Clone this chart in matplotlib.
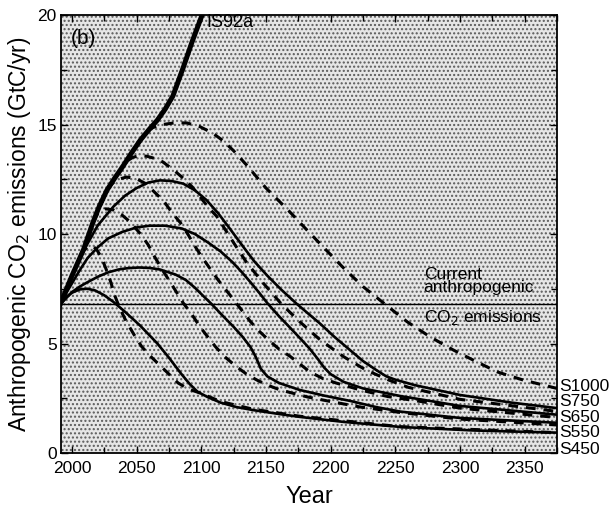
import numpy as np
import matplotlib.pyplot as plt
from matplotlib.patches import Rectangle
from matplotlib.ticker import MultipleLocator

plt.rcParams['font.family'] = ['Liberation Sans', 'DejaVu Sans']
plt.rcParams['hatch.linewidth'] = 1.0

current = 6.8

# IS92a reference scenario
is92a_yr = [1991, 2000, 2009, 2016, 2021, 2027, 2033, 2039, 2046, 2053, 2060, 2066, 2072, 2078, 2086, 2093, 2100.6, 2104]
is92a_val = [6.8, 8.1, 9.3, 10.5, 11.25, 12.0, 12.55, 13.06, 13.7, 14.3, 14.8, 15.2, 15.7, 16.3, 17.6, 18.8, 20.0, 20.6]

# solid (S) profiles
s450_yr = [1991, 1996, 2000, 2006, 2012, 2018, 2025, 2032, 2040, 2053, 2066, 2075, 2084, 2091, 2097,
           2105, 2115, 2127, 2140, 2158, 2176, 2210, 2254, 2310, 2375]
s450_val = [6.8, 7.15, 7.32, 7.47, 7.5, 7.42, 7.2, 6.9, 6.5, 5.8, 5.0, 4.35, 3.65, 3.15, 2.8,
            2.55, 2.3, 2.1, 1.96, 1.8, 1.65, 1.42, 1.19, 1.03, 0.93]

s550_yr = [1991, 1996, 2000, 2006, 2012, 2020, 2028, 2036, 2043, 2052, 2060, 2068, 2080, 2088, 2095,
           2101, 2108, 2116, 2125, 2132, 2138, 2142, 2146, 2151, 2160, 2176, 2195, 2215, 2235, 2254, 2300, 2375]
s550_val = [6.8, 7.1, 7.35, 7.6, 7.8, 8.05, 8.25, 8.38, 8.44, 8.47, 8.45, 8.38, 8.15, 7.9, 7.55,
            7.2, 6.8, 6.3, 5.76, 5.3, 4.84, 4.4, 3.85, 3.5, 3.2, 2.88, 2.62, 2.38, 2.1, 1.89, 1.6, 1.38]

s650_yr = [1991, 1996, 2000, 2006, 2012, 2020, 2028, 2039, 2050, 2060, 2072, 2085, 2095, 2105, 2115,
           2124, 2131, 2138, 2145, 2151, 2160, 2169, 2177, 2184, 2190, 2195, 2200, 2210, 2225, 2254, 2300, 2375]
s650_val = [6.8, 7.35, 7.75, 8.35, 8.9, 9.4, 9.8, 10.1, 10.3, 10.38, 10.38, 10.25, 10.0, 9.62, 9.2,
            8.72, 8.28, 7.8, 7.3, 6.85, 6.25, 5.7, 5.2, 4.75, 4.3, 3.9, 3.6, 3.25, 2.95, 2.6, 2.15, 1.75]

s750_yr = [1991, 1996, 2000, 2005, 2010, 2020, 2032, 2041, 2050, 2059, 2068, 2077, 2086, 2095, 2104,
           2113, 2122, 2132, 2141, 2151, 2162, 2174, 2183, 2192, 2203, 2215, 2225, 2235, 2243, 2250,
           2265, 2300, 2340, 2375]
s750_val = [6.8, 7.5, 8.05, 8.75, 9.35, 10.4, 11.25, 11.75, 12.1, 12.35, 12.45, 12.42, 12.3, 12.0, 11.55,
            10.95, 10.25, 9.45, 8.75, 8.1, 7.45, 6.8, 6.35, 5.9, 5.3, 4.7, 4.2, 3.8, 3.5, 3.35,
            3.1, 2.65, 2.3, 2.05]

# dashed profiles branching off IS92a
d450_yr = [1991, 2000, 2005, 2009, 2013, 2016, 2019, 2023, 2027, 2030, 2033, 2037, 2042, 2048, 2054,
           2061, 2068, 2075, 2082, 2090, 2099, 2115, 2140, 2176, 2254, 2375]
d450_val = [6.8, 8.1, 8.8, 9.25, 9.45, 9.45, 9.3, 8.9, 8.3, 7.8, 7.2, 6.6, 6.0, 5.4, 4.85,
            4.4, 4.0, 3.6, 3.2, 2.92, 2.74, 2.35, 2.0, 1.68, 1.2, 0.93]

d550_yr = [1991, 2000, 2009, 2016, 2020, 2026, 2032, 2038, 2045, 2053, 2059, 2064, 2070, 2076, 2086,
           2093, 2099, 2105, 2111, 2118, 2126, 2135, 2143, 2152, 2161, 2182, 2200, 2223, 2254, 2300, 2375]
d550_val = [6.8, 8.1, 9.3, 10.5, 10.95, 11.15, 11.1, 10.9, 10.55, 10.0, 9.5, 8.95, 8.35, 7.8, 6.85,
            6.3, 5.76, 5.3, 4.85, 4.4, 4.0, 3.6, 3.33, 3.08, 2.88, 2.56, 2.35, 2.1, 1.85, 1.55, 1.28]

d650_yr = [1991, 2000, 2009, 2016, 2027, 2031, 2035, 2042, 2049, 2057, 2064, 2071, 2077, 2084, 2090,
           2095, 2101, 2107, 2113, 2125, 2138, 2145, 2152, 2160, 2169, 2184, 2194, 2204, 2223, 2244,
           2270, 2300, 2375]
d650_val = [6.8, 8.1, 9.3, 10.5, 12.0, 12.3, 12.48, 12.6, 12.55, 12.3, 11.9, 11.5, 11.0, 10.5, 9.95,
            9.45, 8.9, 8.4, 7.9, 7.0, 6.0, 5.55, 5.16, 4.75, 4.4, 3.7, 3.4, 3.2, 2.88, 2.58,
            2.35, 2.05, 1.62]

d750_yr = [1991, 2000, 2009, 2016, 2027, 2039, 2043, 2047, 2052, 2058, 2064, 2070, 2078, 2086, 2093,
           2099, 2105, 2112, 2118, 2125, 2135, 2148, 2162, 2176, 2192, 2210, 2227, 2245, 2260, 2300, 2375]
d750_val = [6.8, 8.1, 9.3, 10.5, 12.0, 13.06, 13.35, 13.5, 13.58, 13.55, 13.45, 13.3, 12.95, 12.55, 12.15,
            11.7, 11.25, 10.8, 10.25, 9.6, 8.7, 7.75, 6.8, 6.0, 5.16, 4.4, 3.8, 3.33, 3.0, 2.45, 1.9]

d1000_yr = [1991, 2000, 2009, 2016, 2027, 2039, 2053, 2058, 2062, 2070, 2080, 2089, 2099, 2109, 2117,
            2125, 2135, 2150, 2167, 2183, 2196, 2210, 2225, 2242, 2259, 2277, 2295, 2310, 2329, 2349, 2375]
d1000_val = [6.8, 8.1, 9.3, 10.5, 12.0, 13.06, 14.3, 14.65, 14.85, 15.0, 15.08, 15.07, 14.9, 14.6, 14.25,
             13.8, 13.15, 12.1, 11.1, 10.1, 9.3, 8.45, 7.6, 6.8, 6.0, 5.3, 4.7, 4.25, 3.7, 3.33, 2.95]

end_labels = ['S1000', 'S750', 'S650', 'S550', 'S450']
end_label_y = [3.05, 2.33, 1.63, 0.95, 0.18]

fig = plt.figure(figsize=(6.12, 5.11), dpi=100)
ax = fig.add_axes([0.0997, 0.1135, 0.8103, 0.8571])

# stippled background
ax.add_patch(Rectangle((0, 0), 1, 1, transform=ax.transAxes, facecolor='#e6e6e6',
                       edgecolor='#5a5a5a', hatch='....', lw=0, zorder=0))

ax.axhline(current, color='black', lw=1.0, zorder=2)

for yr, val in [(s450_yr, s450_val), (s550_yr, s550_val), (s650_yr, s650_val), (s750_yr, s750_val)]:
    ax.plot(yr, val, color='black', lw=1.9, solid_joinstyle='round', zorder=3)

for yr, val in [(d450_yr, d450_val), (d550_yr, d550_val), (d650_yr, d650_val),
                (d750_yr, d750_val), (d1000_yr, d1000_val)]:
    ax.plot(yr, val, color='black', lw=2.2, dashes=(3.2, 2.6), zorder=3)

ax.plot(is92a_yr, is92a_val, color='black', lw=3.6, solid_joinstyle='round', zorder=4)

ax.set_xlim(1991.5, 2375)
ax.set_ylim(0, 20)
ax.xaxis.set_major_locator(MultipleLocator(50))
ax.xaxis.set_minor_locator(MultipleLocator(25))
ax.yaxis.set_major_locator(MultipleLocator(5))
ax.yaxis.set_minor_locator(MultipleLocator(2.5))
ax.tick_params(which='both', direction='in', top=True, right=True, width=1.0, labelsize=12.5)
ax.tick_params(which='major', length=5)
ax.tick_params(which='minor', length=4)
ax.tick_params(axis='x', pad=6)
ax.tick_params(axis='y', pad=3)
for sp in ax.spines.values():
    sp.set_linewidth(1.3)

ax.set_xlabel('Year', fontsize=17, labelpad=7)
ax.set_ylabel('Anthropogenic CO$_2$ emissions (GtC/yr)', fontsize=16.5, labelpad=3)

ax.text(1999, 18.95, '(b)', fontsize=15, va='center', ha='left')
ax.text(2104, 19.65, 'IS92a', fontsize=13, va='center', ha='left')
ax.text(2272, current + 0.42, 'Current\nanthropogenic', fontsize=12.5, ha='left', va='bottom',
        linespacing=0.8)
ax.text(2272, current - 0.2, 'CO$_2$ emissions', fontsize=12.5, ha='left', va='top')

for lab, y in zip(end_labels, end_label_y):
    ax.text(1.004, y, lab, transform=ax.get_yaxis_transform(), fontsize=12.5,
            ha='left', va='center', clip_on=False)

fig.savefig('out.png', dpi=100)
